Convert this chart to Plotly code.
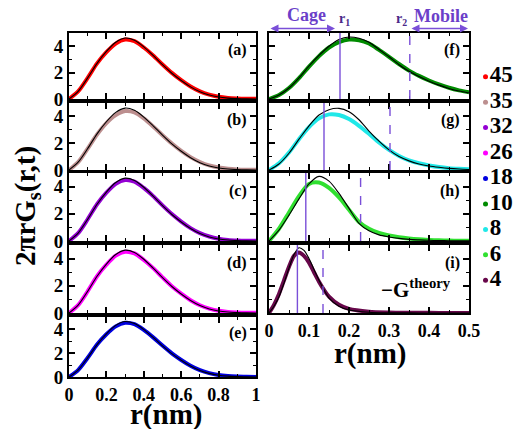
import plotly.graph_objects as go

# ---------------- data ----------------
temps = ["45", "35", "32", "26", "18", "10", "8", "6", "4"]
colors = ["#ff0000", "#bc8f8f", "#9400d3", "#ff00ff", "#0000e0",
          "#008b00", "#20e8e8", "#30e030", "#67074a"]

# left column: r in [0, 1] nm
r_left = [0.00, 0.05, 0.10, 0.15, 0.20, 0.25, 0.30, 0.35, 0.40, 0.45, 0.50,
          0.55, 0.60, 0.65, 0.70, 0.75, 0.80, 0.85, 0.90, 0.95, 1.00]
theory_left = [0.0, 0.6, 1.6, 2.7, 3.6, 4.3, 4.62, 4.45, 3.95, 3.3, 2.6,
               1.95, 1.4, 0.92, 0.55, 0.3, 0.15, 0.07, 0.03, 0.01, 0.0]
sim_a = [0.0, 0.6, 1.6, 2.7, 3.55, 4.2, 4.5, 4.38, 3.9, 3.3, 2.62,
         1.98, 1.43, 0.95, 0.58, 0.33, 0.17, 0.08, 0.04, 0.02, 0.01]
sim_b = [0.0, 0.6, 1.6, 2.65, 3.5, 4.1, 4.4, 4.3, 3.85, 3.25, 2.6,
         1.98, 1.43, 0.96, 0.6, 0.34, 0.18, 0.09, 0.04, 0.02, 0.01]
sim_c = [0.0, 0.6, 1.6, 2.7, 3.55, 4.2, 4.48, 4.36, 3.9, 3.3, 2.62,
         1.98, 1.43, 0.95, 0.58, 0.33, 0.17, 0.08, 0.04, 0.02, 0.01]
sim_d = [0.0, 0.6, 1.6, 2.7, 3.55, 4.22, 4.5, 4.38, 3.9, 3.3, 2.62,
         1.97, 1.42, 0.94, 0.57, 0.32, 0.16, 0.08, 0.04, 0.02, 0.01]
sim_e = [0.0, 0.6, 1.6, 2.7, 3.56, 4.22, 4.52, 4.4, 3.92, 3.3, 2.62,
         1.97, 1.42, 0.94, 0.57, 0.32, 0.16, 0.08, 0.04, 0.02, 0.01]

# right column: r in [0, 0.5] nm
r_right = [0.0, 0.025, 0.05, 0.075, 0.1, 0.125, 0.15, 0.175, 0.2, 0.225, 0.25,
           0.275, 0.3, 0.325, 0.35, 0.375, 0.4, 0.425, 0.45, 0.475, 0.5]
theory_f = [0.0, 0.3, 0.83, 1.6, 2.5, 3.3, 4.0, 4.5, 4.7, 4.6, 4.3,
            3.75, 3.2, 2.6, 2.1, 1.7, 1.35, 1.05, 0.8, 0.6, 0.45]
sim_f = [0.0, 0.3, 0.83, 1.58, 2.45, 3.25, 3.9, 4.3, 4.5, 4.45, 4.2,
         3.72, 3.2, 2.65, 2.15, 1.75, 1.4, 1.1, 0.85, 0.65, 0.5]
theory_g = [0.0, 0.45, 1.25, 2.3, 3.3, 4.1, 4.5, 4.6, 4.35, 3.75, 2.9,
            2.15, 1.5, 1.0, 0.68, 0.45, 0.3, 0.2, 0.12, 0.07, 0.04]
sim_g = [0.0, 0.5, 1.3, 2.3, 3.2, 3.85, 4.15, 4.1, 3.8, 3.3, 2.7,
         2.05, 1.5, 1.05, 0.72, 0.5, 0.34, 0.22, 0.14, 0.09, 0.05]
theory_h = [0.0, 0.8, 1.9, 3.1, 4.2, 4.75, 4.4, 3.5, 2.4, 1.3, 0.75,
            0.45, 0.3, 0.19, 0.12, 0.08, 0.05, 0.03, 0.02, 0.01, 0.01]
sim_h = [0.0, 0.9, 2.1, 3.3, 4.2, 4.3, 3.9, 3.2, 2.3, 1.4, 0.9,
         0.6, 0.4, 0.27, 0.18, 0.12, 0.08, 0.05, 0.03, 0.02, 0.01]

r_i = [0.0, 0.0125, 0.025, 0.0375, 0.05, 0.0625, 0.075, 0.0875, 0.1, 0.1125,
       0.125, 0.1375, 0.15, 0.175, 0.2, 0.25, 0.3, 0.35, 0.4, 0.45, 0.5]
theory_i = [0.0, 0.5, 1.2, 2.2, 3.3, 4.3, 4.8, 4.6, 4.0, 3.2,
            2.4, 1.7, 1.1, 0.5, 0.22, 0.06, 0.02, 0.01, 0.0, 0.0, 0.0]
sim_i = [0.0, 0.6, 1.4, 2.4, 3.4, 4.2, 4.45, 4.2, 3.7, 3.0,
         2.3, 1.7, 1.2, 0.6, 0.3, 0.1, 0.04, 0.02, 0.01, 0.0, 0.0]

# cage / mobile radii for the right-hand panels (f, g, h, i)
r1_marks = [0.1775, 0.1375, 0.092, 0.071]
r2_marks = [0.352, 0.3025, 0.229, 0.135]

panel_labels = ["(a)", "(b)", "(c)", "(d)", "(e)", "(f)", "(g)", "(h)", "(i)"]

# ---------------- layout geometry (pixels) ----------------
W, H = 526, 429
rows = [(33, 99), (103, 170), (173, 241), (245, 313), (317, 377)]
left_cols = (69, 256)
right_cols = (269, 469)


def fx(p):
    return p / W


def fy(p):
    return 1 - p / H


FONT = "Times New Roman, Liberation Serif, Times, serif"
PURPLE = "#7a4fd8"
PURPLE_TXT = "#6b3fc9"

# panel -> (column span, row span, x data, sim, theory, colour index)
panels = [
    (left_cols, rows[0], r_left, sim_a, theory_left, 0),
    (left_cols, rows[1], r_left, sim_b, theory_left, 1),
    (left_cols, rows[2], r_left, sim_c, theory_left, 2),
    (left_cols, rows[3], r_left, sim_d, theory_left, 3),
    (left_cols, rows[4], r_left, sim_e, theory_left, 4),
    (right_cols, rows[0], r_right, sim_f, theory_f, 5),
    (right_cols, rows[1], r_right, sim_g, theory_g, 6),
    (right_cols, rows[2], r_right, sim_h, theory_h, 7),
    (right_cols, rows[3], r_i, sim_i, theory_i, 8),
]

fig = go.Figure()
layout = {}
annotations = []
shapes = []

tickfont = dict(family=FONT, size=18, color="black", weight="bold")

for k, (cols, rw, xs, sim, th, ci) in enumerate(panels):
    n = k + 1
    xa = "x" if n == 1 else f"x{n}"
    ya = "y" if n == 1 else f"y{n}"
    is_left = cols == left_cols
    bottom = (k == 4) or (k == 8)

    fig.add_trace(go.Scatter(
        x=xs, y=sim, mode="lines", xaxis=xa, yaxis=ya,
        line=dict(color=colors[ci], width=4, shape="spline", smoothing=0.8),
        showlegend=False, hoverinfo="skip"))
    fig.add_trace(go.Scatter(
        x=xs, y=th, mode="lines", xaxis=xa, yaxis=ya,
        line=dict(color="black", width=1.1, shape="spline", smoothing=0.8),
        showlegend=False, hoverinfo="skip"))

    xkey = "xaxis" if n == 1 else f"xaxis{n}"
    ykey = "yaxis" if n == 1 else f"yaxis{n}"
    layout[xkey] = dict(
        domain=[fx(cols[0]), fx(cols[1])], anchor=ya,
        range=[0, 1] if is_left else [0, 0.5],
        dtick=0.2 if is_left else 0.1, tick0=0,
        showticklabels=bottom, tickfont=tickfont,
        ticks="inside", ticklen=6, tickwidth=1.5, tickcolor="black",
        minor=dict(ticks="inside", ticklen=3, tickwidth=1.2, tickcolor="black",
                   dtick=0.1 if is_left else 0.05),
        showline=True, linecolor="black", linewidth=1.8, mirror="allticks",
        showgrid=False, zeroline=False, automargin=False)
    layout[ykey] = dict(
        domain=[fy(rw[1]), fy(rw[0])], anchor=xa,
        range=[0, 5], dtick=2, tick0=0,
        showticklabels=is_left, tickfont=dict(tickfont, size=19),
        ticks="inside", ticklen=6, tickwidth=1.5, tickcolor="black",
        minor=dict(ticks="inside", ticklen=3, tickwidth=1.2, tickcolor="black",
                   dtick=1),
        showline=True, linecolor="black", linewidth=1.8, mirror="allticks",
        showgrid=False, zeroline=False, automargin=False)

    annotations.append(dict(
        text=panel_labels[k], xref=f"{xa} domain", yref=f"{ya} domain",
        x=0.965, y=0.74, xanchor="right", yanchor="middle", showarrow=False,
        font=dict(family=FONT, size=16, color="black", weight="bold")))

# cage (solid) and mobile (dashed) boundaries in the right column
for j in range(4):
    n = 6 + j
    for val, dash in ((r1_marks[j], "solid"), (r2_marks[j], "dash")):
        shapes.append(dict(
            type="line", xref=f"x{n}", yref=f"y{n} domain",
            x0=val, x1=val, y0=0, y1=1,
            line=dict(color=PURPLE, width=1.4, dash=dash)))

# double arrows above panel (f)
for x_start, x_end in ((0.0, 0.165), (0.3525, 0.4975)):
    annotations.append(dict(
        xref="x6", yref="paper", axref="x6", ayref="pixel",
        x=x_end, ax=x_start, y=fy(28.5), ay=0, text="", showarrow=True,
        arrowhead=2, arrowside="end+start", arrowsize=1, arrowwidth=1.6,
        arrowcolor=PURPLE))


def label(text, x, y, font, **kw):
    return dict(text=text, xref="paper", yref="paper", x=fx(x), y=fy(y),
                xanchor="center", yanchor="middle", showarrow=False,
                font=font, **kw)


top_font = dict(family=FONT, size=18, color=PURPLE_TXT, weight="bold")
sub_font = dict(family=FONT, size=14, color="#4b2a8a", weight="bold")
annotations += [
    label("Cage", 306, 15, top_font),
    label("Mobile", 441, 16, top_font),
    label("r<sub>1</sub>", 344, 20, sub_font),
    label("r<sub>2</sub>", 401, 20, sub_font),
]

# theory key in panel (i)
annotations.append(dict(
    text="\u2212G<sup>theory</sup>", xref="x9 domain", yref="y9 domain",
    x=0.92, y=0.36, xanchor="right", yanchor="middle", showarrow=False,
    font=dict(family=FONT, size=21, color="black", weight="bold")))

# axis titles
title_font = dict(family=FONT, size=29, color="black", weight="bold")
annotations += [
    label("r(nm)", 166, 414, title_font),
    label("r(nm)", 370, 353, title_font),
    label("2\u03c0rG<sub>s</sub>(r,t)", 27, 206, title_font, textangle=-90),
]

# temperature key on the right
legend_y = list(range(len(temps)))
fig.add_trace(go.Scatter(
    x=[0.12] * len(temps), y=legend_y, xaxis="x10", yaxis="y10",
    mode="markers+text", text=temps, textposition="middle right",
    marker=dict(color=colors, size=5),
    textfont=dict(family=FONT, size=23, color="black", weight="bold"),
    showlegend=False, hoverinfo="skip", cliponaxis=False))
layout["xaxis10"] = dict(domain=[fx(480), 1.0], range=[0, 1], anchor="y10",
                         visible=False, fixedrange=True)
layout["yaxis10"] = dict(domain=[fy(293), fy(64)], range=[8.5, -0.5],
                         anchor="x10", visible=False, fixedrange=True)

fig.update_layout(
    width=W, height=H, margin=dict(l=0, r=0, t=0, b=0),
    paper_bgcolor="white", plot_bgcolor="white",
    annotations=annotations, shapes=shapes, **layout)

fig.write_html("out.html")
